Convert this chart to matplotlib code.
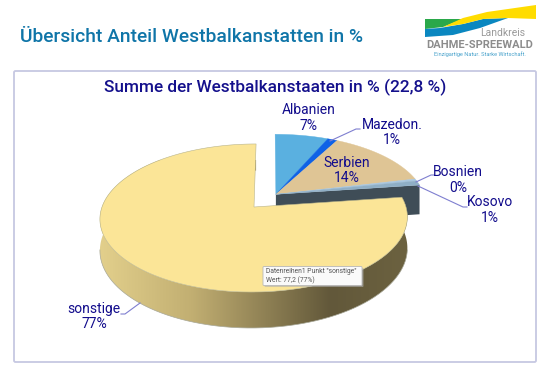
import numpy as np
import matplotlib
matplotlib.use("Agg")
import matplotlib.pyplot as plt
from matplotlib.patches import Polygon, FancyBboxPatch
from matplotlib.colors import LinearSegmentedColormap

plt.rcParams["font.family"] = ["Roboto", "DejaVu Sans"]

categories = ["Albanien", "Mazedon.", "Serbien", "Bosnien", "Kosovo", "sonstige"]
values = [6.6, 1.2, 13.5, 0.5, 1.0, 77.2]
percent_labels = ["7%", "1%", "14%", "0%", "1%", "77%"]
colors = ["#5ab0e0", "#0f62e6", "#dfc595", "#a9c6de", "#8fafc6", "#fbe597"]

page_title = "Übersicht Anteil Westbalkanstatten in %"
chart_title = "Summe der Westbalkanstaaten in % (22,8 %)"
tooltip_lines = ['Datenreihen1 Punkt "sonstige"', "Wert: 77,2 (77%)"]

NAVY = "#120c8c"
LEADER = "#7f7fd0"

# where each label sits, in pixels
label_pos = {
    "Albanien": (309, 110), "Mazedon.": (392, 125), "Serbien": (347, 163),
    "Bosnien": (458, 172), "Kosovo": (490, 202), "sonstige": (94, 309),
}
leaders = [
    [(330, 141), (356, 129), (360, 129)],
    [(416, 182), (431, 175), (434, 175)],
    [(418, 186), (463, 207), (467, 207)],
    [(140, 303), (125, 314), (121, 314)],
]

# pie geometry in pixels, the disc is tilted so the far side is squeezed
CX, CY = 254, 207
RX, RY = 152, 72.4
PERSP = 0.1486
VANISH_X = 270
DEPTH = 30.6
EXPLODE = (0.145, 0.18)


def project(u, v, z=0.0):
    s = 1 / (1 + PERSP * np.asarray(v))
    x = VANISH_X + (CX + RX * np.asarray(u) - VANISH_X) * s
    y = CY - RY * np.asarray(v) * s + z * DEPTH * s
    return np.column_stack([x, y])


def rim(a0, a1, off=(0, 0), z=0.0):
    ang = np.radians(np.linspace(a0, a1, max(int(abs(a1 - a0) * 2), 2)))
    return project(off[0] + np.sin(ang), off[1] + np.cos(ang), z)


fig = plt.figure(figsize=(5.5, 3.66), dpi=100)
ax = fig.add_axes([0, 0, 1, 1])
ax.set_xlim(0, 550)
ax.set_ylim(366, 0)
ax.axis("off")

# header
ax.text(20, 37, page_title, color="#0f75a8", fontsize=13.9, va="center", ha="left", fontweight="medium")

# logo
ax.add_patch(Polygon([(425, 19), (463, 19), (443, 27), (425, 29)], fc="#2aa84a", lw=0))
ax.add_patch(Polygon([(425, 29), (440, 28), (463, 24), (483, 19), (508, 18), (480, 28), (453, 35), (425, 37)],
                     fc="#0a87c0", lw=0))
ax.add_patch(Polygon([(443, 27), (463, 18), (487, 12), (536, 5), (536, 19), (508, 18), (483, 19), (463, 24)],
                     fc="#ffdc00", lw=0))
ax.text(525, 33, "Landkreis", color="#9a9a9a", fontsize=7.5, ha="right", va="center")
ax.text(480, 45, "DAHME-SPREEWALD", color="#8c8c8c", fontsize=8, ha="center", va="center", fontweight="bold")
ax.text(480, 54, "Einzigartige Natur. Starke Wirtschaft.", color="#4aa3cc", fontsize=4.1, ha="center", va="center")

# chart panel
ax.add_patch(FancyBboxPatch((14, 71), 522, 291, boxstyle="round,pad=0,rounding_size=1.5",
                            fc="white", ec="#c6c8e2", lw=1.3))
ax.text(275, 87, chart_title, color="#14108c", fontsize=12.4, ha="center", va="center", fontweight="medium")

# slice angles, clockwise from twelve o'clock
edges = np.concatenate([[0], np.cumsum(values)]) / np.sum(values) * 360

# cut face of the pulled out group
a_end = edges[5]
centre_top = project(EXPLODE[0], EXPLODE[1])
centre_bot = project(EXPLODE[0], EXPLODE[1], 1)
end_top = rim(a_end - 0.01, a_end, EXPLODE)[-1]
end_bot = rim(a_end - 0.01, a_end, EXPLODE, 1)[-1]
ax.add_patch(Polygon([centre_top[0], end_top, end_bot, centre_bot[0]], fc="#3f4d57", lw=0, zorder=2))

# top faces of the pulled out group
for i in range(5):
    pts = np.vstack([centre_top, rim(edges[i], edges[i + 1], EXPLODE)])
    ax.add_patch(Polygon(pts, fc=colors[i], ec=colors[i], lw=0.3, zorder=3))

# sonstige: outer wall with gradient, then top face
top_rim = rim(edges[5], edges[6])
bot_rim = rim(edges[5], edges[6], z=1)
wall = Polygon(np.vstack([top_rim, bot_rim[::-1]]), fc="none", lw=0, zorder=4)
ax.add_patch(wall)
side_cmap = LinearSegmentedColormap.from_list(
    "side", [(0, "#e3d08c"), (0.3, "#c2af72"), (0.75, "#62583a"), (1, "#6c6240")])
grad = ax.imshow(np.linspace(0, 1, 256)[None, :], cmap=side_cmap, extent=(98, 408, 340, 160),
                 aspect="auto", zorder=4)
grad.set_clip_path(wall)
ax.set_xlim(0, 550)
ax.set_ylim(366, 0)

top_face = np.vstack([project(0, 0), top_rim])
ax.add_patch(Polygon(top_face, fc=colors[5], ec="#b8b48c", lw=0.4, zorder=5))
front = rim(99, 261, z=1)
ax.plot(front[:, 0], front[:, 1], color="#a8a898", lw=0.5, zorder=5)

# labels
for name, pct in zip(categories, percent_labels):
    x, y = label_pos[name]
    ax.text(x, y, name, color=NAVY, fontsize=10, ha="center", va="center", zorder=7)
    ax.text(x, y + 15.5, pct, color=NAVY, fontsize=10, ha="center", va="center", zorder=7)
for line in leaders:
    xs, ys = zip(*line)
    ax.plot(xs, ys, color=LEADER, lw=0.8, zorder=6)

# tooltip
ax.add_patch(FancyBboxPatch((264.5, 268), 99, 19, boxstyle="round,pad=0,rounding_size=1",
                            fc="#b0b0b0", lw=0, alpha=0.6, zorder=7))
ax.add_patch(FancyBboxPatch((263, 266.5), 99, 19, boxstyle="round,pad=0,rounding_size=1",
                            fc="#fafafa", ec="#b8b8b8", lw=0.6, zorder=8))
ax.text(266, 271.5, tooltip_lines[0], color="#555555", fontsize=4.9, va="center", zorder=9)
ax.text(266, 280, tooltip_lines[1], color="#555555", fontsize=4.9, va="center", zorder=9)

fig.savefig("out.png", dpi=100)
